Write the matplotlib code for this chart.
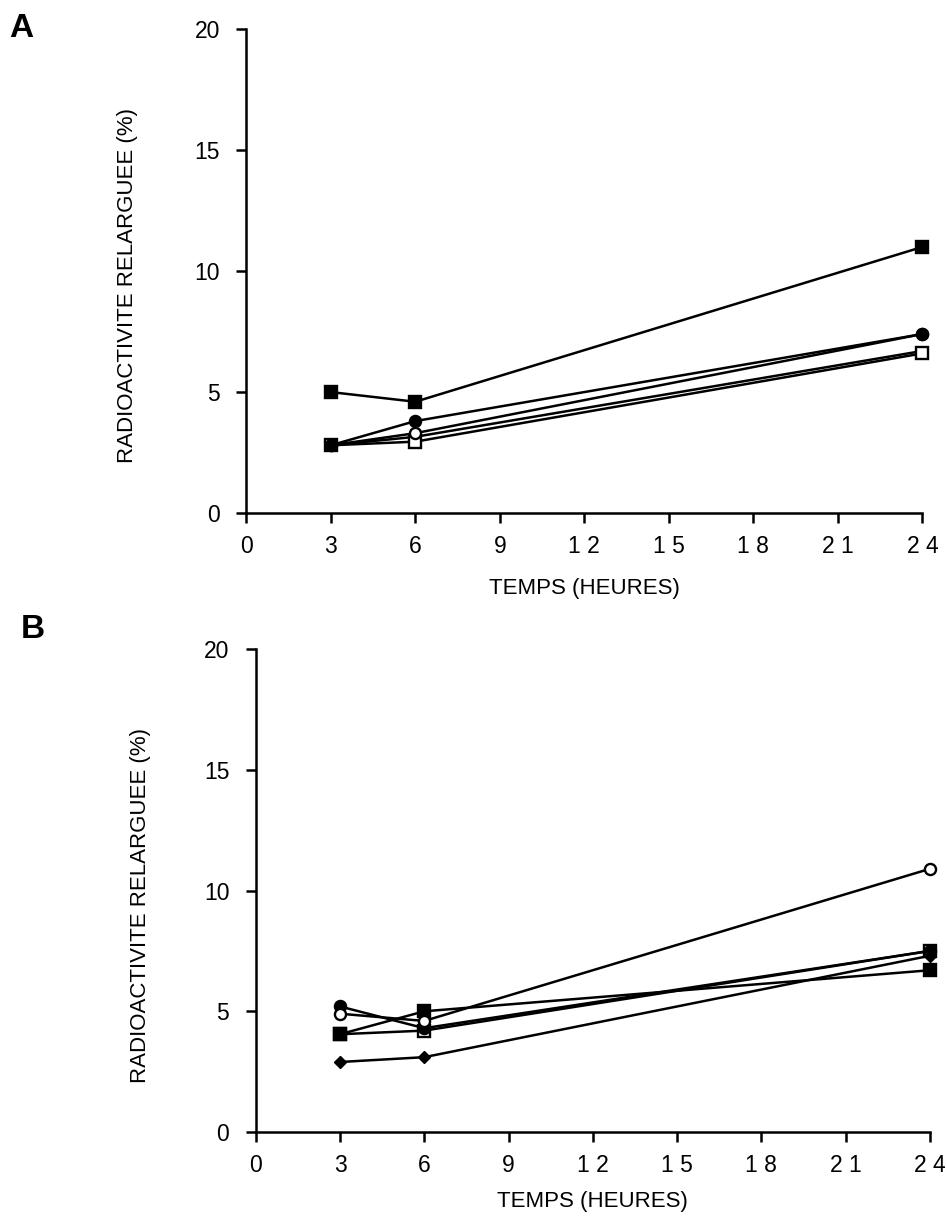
import matplotlib.pyplot as plt

plt.rcParams['font.family'] = ['Liberation Sans', 'DejaVu Sans']

# Data
temps = [3, 6, 24]

# Panel A
a_filled_square = [5.0, 4.6, 11.0]
a_filled_circle = [2.8, 3.8, 7.4]
a_open_circle = [2.8, 3.3, 7.4]
a_open_square = [2.8, 2.95, 6.6]
a_fifth = [2.8, 3.15, 6.7]

# Panel B
b_open_circle = [4.9, 4.6, 10.9]
b_filled_circle = [5.2, 4.3, 7.5]
b_filled_square = [4.05, 5.0, 6.7]
b_open_square = [4.05, 4.2, 7.5]
b_diamond = [2.9, 3.1, 7.3]

xticks = [0, 3, 6, 9, 12, 15, 18, 21, 24]
xticklabels = ['0', '3', '6', '9', '1 2', '1 5', '1 8', '2 1', '2 4']
yticks = [0, 5, 10, 15, 20]

fig = plt.figure(figsize=(9.47, 12.2), dpi=100)
fig.patch.set_facecolor('white')

axA = fig.add_axes([0.260, 0.5795, 0.714, 0.3965])
axB = fig.add_axes([0.270, 0.0721, 0.712, 0.3959])

def style(ax, xl_y, yl_x):
    ax.set_xlim(0, 24)
    ax.set_ylim(0, 20)
    ax.set_xticks(xticks)
    ax.set_xticklabels(xticklabels)
    ax.set_yticks(yticks)
    ax.spines['top'].set_visible(False)
    ax.spines['right'].set_visible(False)
    for s in ['left', 'bottom']:
        ax.spines[s].set_linewidth(1.8)
    ax.tick_params(direction='out', length=7, width=1.8, labelsize=16.5)
    ax.tick_params(axis='y', pad=12)
    ax.tick_params(axis='x', pad=9)
    ax.set_xlabel('TEMPS (HEURES)', fontsize=16)
    ax.set_ylabel('RADIOACTIVITE RELARGUEE (%)', fontsize=16)
    ax.xaxis.set_label_coords(0.5, xl_y)
    ax.yaxis.set_label_coords(yl_x, 0.47)
    ax.patch.set_alpha(0)

kw = dict(color='black', lw=1.8, markersize=8, markeredgewidth=1.7, clip_on=False)

axA.plot(temps, a_fifth, marker='o', mfc='black', markersize=3, color='black', lw=1.8, clip_on=False)
axA.plot(temps, a_open_square, marker='s', mfc='white', **kw)
axA.plot(temps, a_open_circle, marker='o', mfc='white', **kw)
axA.plot(temps, a_filled_circle, marker='o', mfc='black', **kw)
axA.plot(temps, a_filled_square, marker='s', mfc='black', **kw)
style(axA, -0.134, -0.16)

axB.plot(temps, b_diamond, marker='D', mfc='black', color='black', lw=1.8, markersize=6, clip_on=False)
axB.plot(temps, b_open_square, marker='s', mfc='white', **kw)
axB.plot(temps, b_filled_square, marker='s', mfc='black', **kw)
axB.plot(temps, b_filled_circle, marker='o', mfc='black', **kw)
axB.plot(temps, b_open_circle, marker='o', mfc='white', **kw)
style(axB, -0.122, -0.155)

fig.text(0.010, 0.977, 'A', fontsize=24, fontweight='bold', va='center')
fig.text(0.022, 0.484, 'B', fontsize=24, fontweight='bold', va='center')

plt.savefig('out.png', dpi=100, facecolor='white')
